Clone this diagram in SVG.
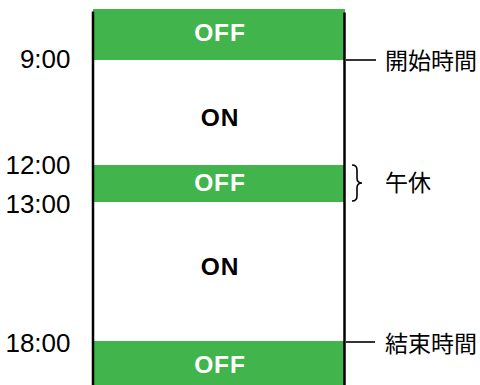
<svg xmlns="http://www.w3.org/2000/svg" width="480" height="385" viewBox="0 0 480 385">
<style>
.band{fill:#41b54b}
.st{font-family:"Liberation Sans",Arial,sans-serif;font-weight:bold;font-size:24.5px;text-anchor:middle;letter-spacing:0.9px}
.off{fill:#ffffff}
.on{fill:#000000}
.time{font-family:"Liberation Sans",Arial,sans-serif;font-size:26px;text-anchor:end;fill:#000}
.jp{font-family:"Noto Sans CJK JP","Noto Sans CJK SC",sans-serif;font-size:23px;fill:#000}
.ax{stroke:#000;stroke-width:2.5;fill:none}
.tk{stroke:#000;stroke-width:1.6;fill:none}
</style>
<rect width="480" height="385" fill="#fff"/>
<g id="off1"><rect class="band" x="93" y="9" width="252" height="51"/><text class="st off" x="220" y="41">OFF</text></g>
<g id="on1"><text class="st on" x="220" y="126">ON</text></g>
<g id="off2"><rect class="band" x="93" y="165" width="252" height="37"/><text class="st off" x="220" y="191">OFF</text></g>
<g id="on2"><text class="st on" x="220" y="275">ON</text></g>
<g id="off3"><rect class="band" x="93" y="341" width="252" height="44"/><text class="st off" x="220" y="372.5">OFF</text></g>
<g id="times">
<text class="time" x="70.5" y="68">9:00</text>
<text class="time" x="70.5" y="174">12:00</text>
<text class="time" x="70.5" y="213">13:00</text>
<text class="time" x="70.5" y="352">18:00</text>
</g>
<g id="connectors">
<line class="ax" x1="93" y1="11.5" x2="93" y2="385"/>
<line class="ax" x1="344.5" y1="12.5" x2="344.5" y2="385"/>
<line class="tk" x1="346" y1="60" x2="376" y2="60"/>
<line class="tk" x1="346" y1="342" x2="375" y2="342"/>
<path class="tk" d="M352,165 Q357,165 357,170 L357,178 Q357,183 362,183 Q357,183 357,188 L357,196 Q357,201 352,201" stroke-width="1.4"/>
</g>
<g id="labels">
<text class="jp" x="385" y="69">開始時間</text>
<text class="jp" x="385" y="190.5">午休</text>
<text class="jp" x="385" y="351.5">結束時間</text>
</g>
</svg>
